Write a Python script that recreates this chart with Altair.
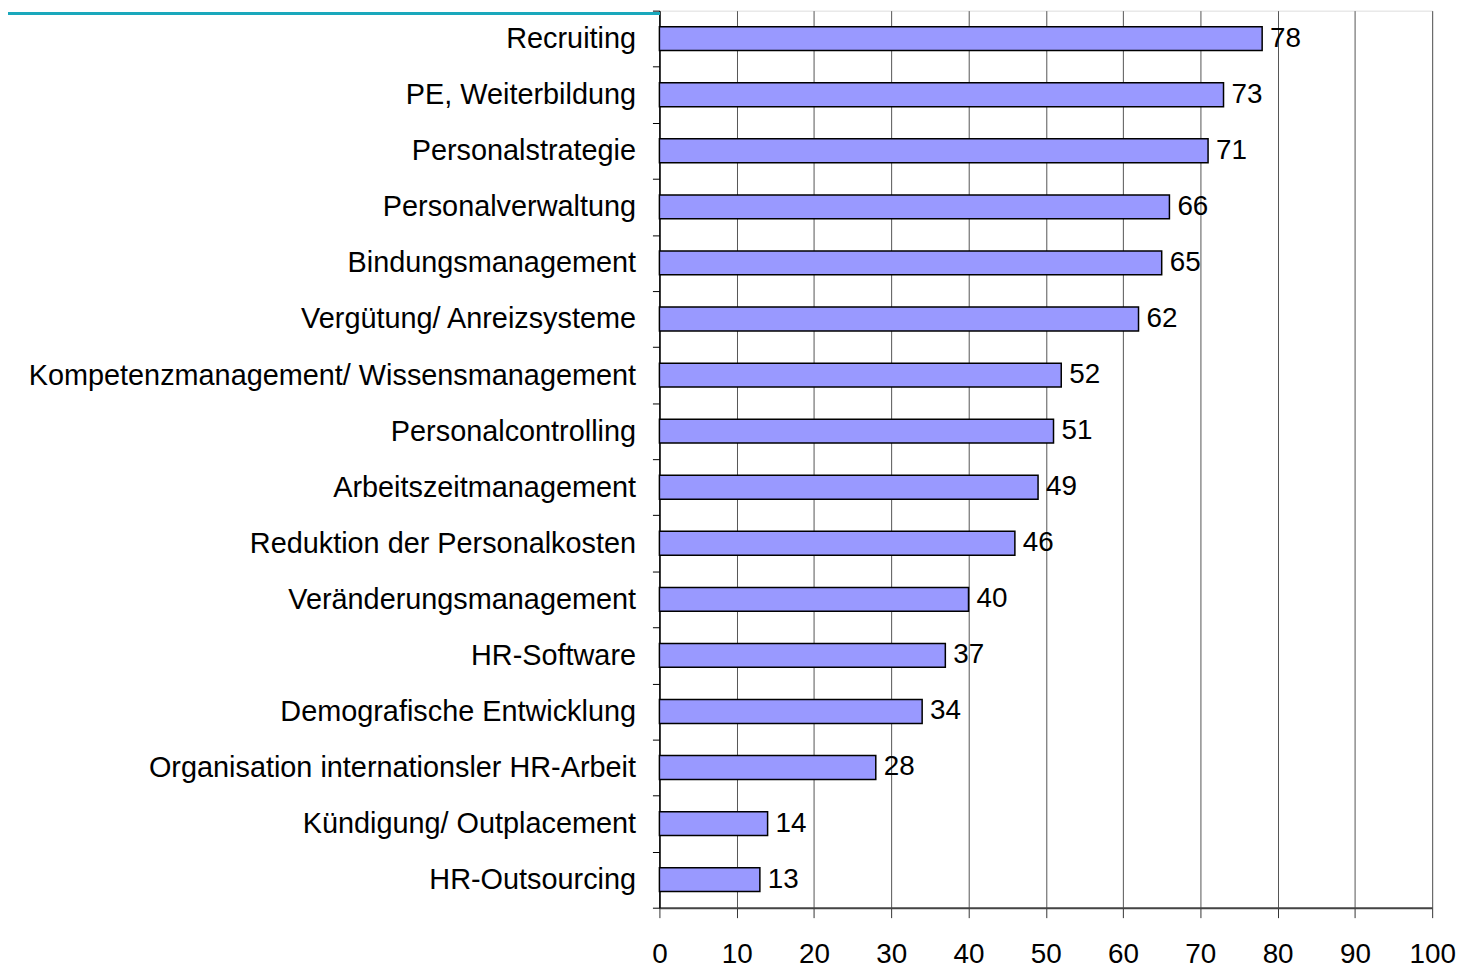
import altair as alt
import pandas as pd

categories = [
    "Recruiting",
    "PE, Weiterbildung",
    "Personalstrategie",
    "Personalverwaltung",
    "Bindungsmanagement",
    "Vergütung/ Anreizsysteme",
    "Kompetenzmanagement/ Wissensmanagement",
    "Personalcontrolling",
    "Arbeitszeitmanagement",
    "Reduktion der Personalkosten",
    "Veränderungsmanagement",
    "HR-Software",
    "Demografische Entwicklung",
    "Organisation internationsler HR-Arbeit",
    "Kündigung/ Outplacement",
    "HR-Outsourcing",
]
values = [78, 73, 71, 66, 65, 62, 52, 51, 49, 46, 40, 37, 34, 28, 14, 13]
x_ticks = [0, 10, 20, 30, 40, 50, 60, 70, 80, 90, 100]

df = pd.DataFrame({"cat": categories, "val": values})

FONT = "Liberation Sans"

y_enc = alt.Y(
    "cat:N",
    sort=categories,
    title=None,
    scale=alt.Scale(paddingInner=0, paddingOuter=0),
    axis=alt.Axis(
        labelFontSize=29,
        labelFont=FONT,
        labelColor="black",
        labelPadding=17,
        tickSize=7,
        tickColor="black",
        tickWidth=1,
        tickBand="extent",
        domainColor="black",
        domainWidth=1.5,
        grid=False,
        labelLimit=1000,
    ),
)
x_enc = alt.X(
    "val:Q",
    title=None,
    scale=alt.Scale(domain=[0, 100], nice=False),
    axis=alt.Axis(
        values=x_ticks,
        labelFontSize=28,
        labelFont=FONT,
        labelColor="black",
        labelPadding=23,
        labelFlush=False,
        tickSize=10,
        tickColor="#333333",
        tickWidth=1,
        domainColor="#444444",
        domainWidth=2,
        grid=True,
        gridColor="#555555",
        gridWidth=1,
    ),
)

bars = alt.Chart(df).mark_bar(
    color="#9999FF", stroke="black", strokeWidth=1.5, size=24
).encode(x=x_enc, y=y_enc)

labels = alt.Chart(df).mark_text(
    align="left", baseline="middle", dx=8, fontSize=28, font=FONT, color="black"
).encode(x="val:Q", y=alt.Y("cat:N", sort=categories), text="val:Q")

teal = alt.Chart(df).mark_rule(color="#1AA8BC", strokeWidth=3).encode(
    x=alt.value(-660), x2=alt.value(0), y=alt.value(3)
)

chart = (
    alt.layer(bars, labels, teal)
    .properties(
        width=777,
        height=902,
        autosize=alt.AutoSizeParams(type="none"),
        padding={"left": 655, "top": 0, "right": 30, "bottom": 60},
    )
    .configure_view(stroke="#999999", strokeWidth=1)
    .configure(background="white")
)

chart.save("out.html", embed_options={"renderer": "svg", "actions": False})
